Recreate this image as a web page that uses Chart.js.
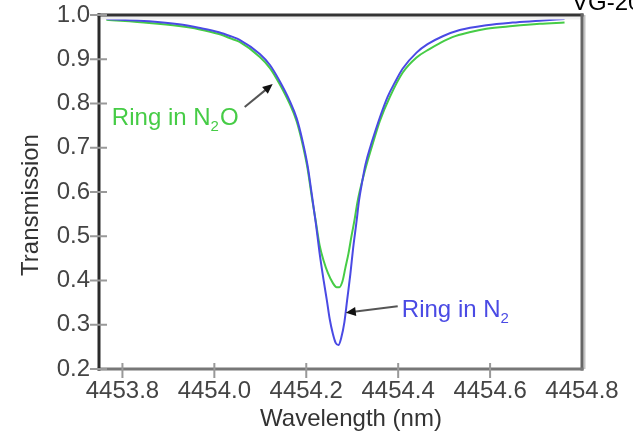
<!DOCTYPE html>
<html>
	<head>
		<meta charset="utf-8">
		<title>Ring transmission</title>
		<script src="https://cdn.jsdelivr.net/npm/chart.js"></script>
		<style>
			html, body {
				margin: 0;
				padding: 0;
				background: #fff;
			}

			#wrap {
				width: 633px;
				height: 437px;
			}
		</style>
	</head>
	<body>
		<div id="wrap">
			<canvas id="chart" width="633" height="437"></canvas>
		</div>
		<script>
			// ring in N2 (blue)
			const n2Wavelength = [4453.765, 4453.858, 4453.923, 4453.966, 4454.010, 4454.038, 4454.055, 4454.099, 4454.121, 4454.142,
				4454.164, 4454.179, 4454.192, 4454.203, 4454.212, 4454.221, 4454.229, 4454.238, 4454.245, 4454.251,
				4454.258, 4454.264, 4454.270, 4454.276, 4454.283, 4454.289, 4454.296, 4454.302, 4454.309, 4454.315,
				4454.322, 4454.329, 4454.340, 4454.351, 4454.362, 4454.377, 4454.392, 4454.410, 4454.440, 4454.464,
				4454.497, 4454.534, 4454.592, 4454.649, 4454.708, 4454.762];
			const n2Transmission = [0.991, 0.986, 0.979, 0.971, 0.961, 0.951, 0.944, 0.912, 0.887, 0.851,
				0.806, 0.767, 0.715, 0.659, 0.595, 0.528, 0.462, 0.399, 0.354, 0.313,
				0.279, 0.259, 0.254, 0.270, 0.306, 0.356, 0.415, 0.473, 0.530, 0.582,
				0.625, 0.663, 0.704, 0.740, 0.774, 0.815, 0.846, 0.879, 0.915, 0.934,
				0.952, 0.966, 0.977, 0.983, 0.987, 0.991];

			// ring in N2O (green)
			const n2oWavelength = [4453.765, 4453.858, 4453.923, 4453.966, 4454.010, 4454.038, 4454.055, 4454.099, 4454.121, 4454.142,
				4454.164, 4454.179, 4454.192, 4454.203, 4454.212, 4454.221, 4454.229, 4454.238, 4454.247, 4454.258,
				4454.266, 4454.272, 4454.279, 4454.285, 4454.292, 4454.298, 4454.305, 4454.311, 4454.318, 4454.325,
				4454.331, 4454.345, 4454.360, 4454.382, 4454.410, 4454.440, 4454.468, 4454.490, 4454.518, 4454.555,
				4454.592, 4454.649, 4454.708, 4454.762];
			const n2oTransmission = [0.989, 0.982, 0.975, 0.968, 0.957, 0.946, 0.939, 0.905, 0.880, 0.844,
				0.799, 0.760, 0.708, 0.652, 0.589, 0.532, 0.480, 0.444, 0.417, 0.394,
				0.385, 0.385, 0.399, 0.428, 0.462, 0.498, 0.537, 0.575, 0.609, 0.638,
				0.661, 0.710, 0.760, 0.815, 0.870, 0.904, 0.923, 0.936, 0.950, 0.961,
				0.969, 0.975, 0.980, 0.983];

			const xTickValues = [4453.8, 4454.0, 4454.2, 4454.4, 4454.6, 4454.8];
			const yTickValues = [0.2, 0.3, 0.4, 0.5, 0.6, 0.7, 0.8, 0.9, 1.0];

			const FONT = '"Liberation Sans", Arial, sans-serif';
			const BLUE = '#4a4ae4';
			const GREEN = '#46cc46';

			function toPoints(xs, ys) {
				return xs.map((x, i) => ({ x: x, y: ys[i] }));
			}

			function arrow(ctx, x1, y1, x2, y2) {
				const a = Math.atan2(y2 - y1, x2 - x1);
				const hl = 10, hw = 4.5;
				ctx.save();
				ctx.strokeStyle = '#555';
				ctx.lineWidth = 2;
				ctx.beginPath();
				ctx.moveTo(x1, y1);
				ctx.lineTo(x2 - Math.cos(a) * hl * 0.8, y2 - Math.sin(a) * hl * 0.8);
				ctx.stroke();
				ctx.fillStyle = '#111';
				ctx.beginPath();
				ctx.moveTo(x2, y2);
				ctx.lineTo(x2 - Math.cos(a) * hl - Math.sin(a) * hw, y2 - Math.sin(a) * hl + Math.cos(a) * hw);
				ctx.lineTo(x2 - Math.cos(a) * hl + Math.sin(a) * hw, y2 - Math.sin(a) * hl - Math.cos(a) * hw);
				ctx.closePath();
				ctx.fill();
				ctx.restore();
			}

			// label with a subscript: parts = [[text, isSub], ...]
			function subLabel(ctx, x, y, parts, color) {
				ctx.save();
				ctx.fillStyle = color;
				ctx.textAlign = 'left';
				ctx.textBaseline = 'alphabetic';
				let cx = x;
				parts.forEach(p => {
					ctx.font = p[1] ? '15px ' + FONT : '24px ' + FONT;
					ctx.fillText(p[0], cx, p[1] ? y + 6 : y);
					cx += ctx.measureText(p[0]).width + (p[1] ? 1 : 0);
				});
				ctx.restore();
			}

			const framePlugin = {
				id: 'frame',
				afterDatasetsDraw(chart) {
					const ctx = chart.ctx;
					const a = chart.chartArea;
					const xs = chart.scales.x, ys = chart.scales.y;
					ctx.save();
					// box
					ctx.fillStyle = '#efefef';
					ctx.fillRect(a.left, a.top + 1.5, a.right - a.left, 3);
					ctx.fillStyle = '#c4c4c4';
					ctx.fillRect(a.right + 1.5, a.top, 2, a.bottom - a.top);
					ctx.fillStyle = '#333';
					ctx.fillRect(a.left - 1.5, a.top - 1.5, a.right - a.left + 3, 3);
					ctx.fillStyle = '#666';
					ctx.fillRect(a.right - 1.5, a.top - 1.5, 3, a.bottom - a.top + 3);
					ctx.fillStyle = '#777';
					ctx.fillRect(a.left - 1.5, a.bottom - 1.5, a.right - a.left + 3, 3);
					ctx.fillStyle = '#2a2a2a';
					ctx.fillRect(a.left - 1.5, a.top - 1.5, 3, a.bottom - a.top + 3);
					// tick marks crossing the axes
					ctx.fillStyle = '#999';
					yTickValues.forEach(v => {
						const py = ys.getPixelForValue(v);
						ctx.fillRect(a.left - 9, py - 1, 17, 2);
					});
					xTickValues.forEach(v => {
						const px = xs.getPixelForValue(v);
						if (v < 4454.79) ctx.fillRect(px - 1, a.bottom - 6, 2, 15);
					});
					ctx.restore();
				},
				afterDraw(chart) {
					const ctx = chart.ctx;
					const xs = chart.scales.x, ys = chart.scales.y;
					const X = v => xs.getPixelForValue(v);
					const Y = v => ys.getPixelForValue(v);
					ctx.save();
					ctx.fillStyle = '#333';
					ctx.font = '24px ' + FONT;
					ctx.textAlign = 'center';
					ctx.textBaseline = 'alphabetic';
					ctx.fillText('Wavelength (nm)', 351, 426);
					ctx.translate(38, 205);
					ctx.rotate(-Math.PI / 2);
					ctx.fillText('Transmission', 0, 0);
					ctx.restore();

					ctx.save();
					ctx.fillStyle = '#000';
					ctx.font = '24px ' + FONT;
					ctx.textAlign = 'left';
					ctx.fillText('VG-20', 572, 10);
					ctx.restore();

					subLabel(ctx, X(4453.777), Y(0.751), [['Ring in N', false], ['2', true], ['O', false]], GREEN);
					arrow(ctx, X(4454.066), Y(0.792), X(4454.127), Y(0.844));
					subLabel(ctx, X(4454.408), Y(0.318), [['Ring in N', false], ['2', true]], BLUE);
					arrow(ctx, X(4454.399), Y(0.342), X(4454.286), Y(0.327));
				}
			};

			new Chart(document.getElementById('chart'), {
				type: 'line',
				data: {
					datasets: [{
						label: 'Ring in N2',
						data: toPoints(n2Wavelength, n2Transmission),
						borderColor: BLUE,
						borderWidth: 2,
						pointRadius: 0,
						cubicInterpolationMode: 'monotone',
						fill: false
					}, {
						label: 'Ring in N2O',
						data: toPoints(n2oWavelength, n2oTransmission),
						borderColor: GREEN,
						borderWidth: 2,
						pointRadius: 0,
						cubicInterpolationMode: 'monotone',
						fill: false
					}]
				},
				options: {
					responsive: false,
					animation: false,
					devicePixelRatio: 1,
					layout: {
						padding: { left: 0, top: 15, right: 51, bottom: 0 }
					},
					plugins: {
						legend: { display: false },
						tooltip: { enabled: false }
					},
					scales: {
						x: {
							type: 'linear',
							min: 4453.749,
							max: 4454.8,
							grid: { display: false, drawTicks: false },
							border: { display: false },
							afterBuildTicks: s => { s.ticks = xTickValues.map(v => ({ value: v })); },
							afterFit: s => {
								s.height = 68;
								s.paddingLeft = 0;
								s.paddingRight = 0;
							},
							ticks: {
								padding: 8,
								maxRotation: 0,
								autoSkip: false,
								color: '#444',
								font: { family: FONT, size: 24 },
								callback: v => v.toFixed(1)
							}
						},
						y: {
							min: 0.2,
							max: 1.0,
							grid: { display: false, drawTicks: false },
							border: { display: false },
							afterBuildTicks: s => { s.ticks = yTickValues.map(v => ({ value: v })); },
							afterFit: s => {
								s.width = 99;
								s.paddingTop = 0;
								s.paddingBottom = 0;
							},
							ticks: {
								padding: 9,
								autoSkip: false,
								color: '#444',
								font: { family: FONT, size: 24 },
								callback: v => v.toFixed(1)
							}
						}
					}
				},
				plugins: [framePlugin]
			});
		</script>
	</body>
</html>
